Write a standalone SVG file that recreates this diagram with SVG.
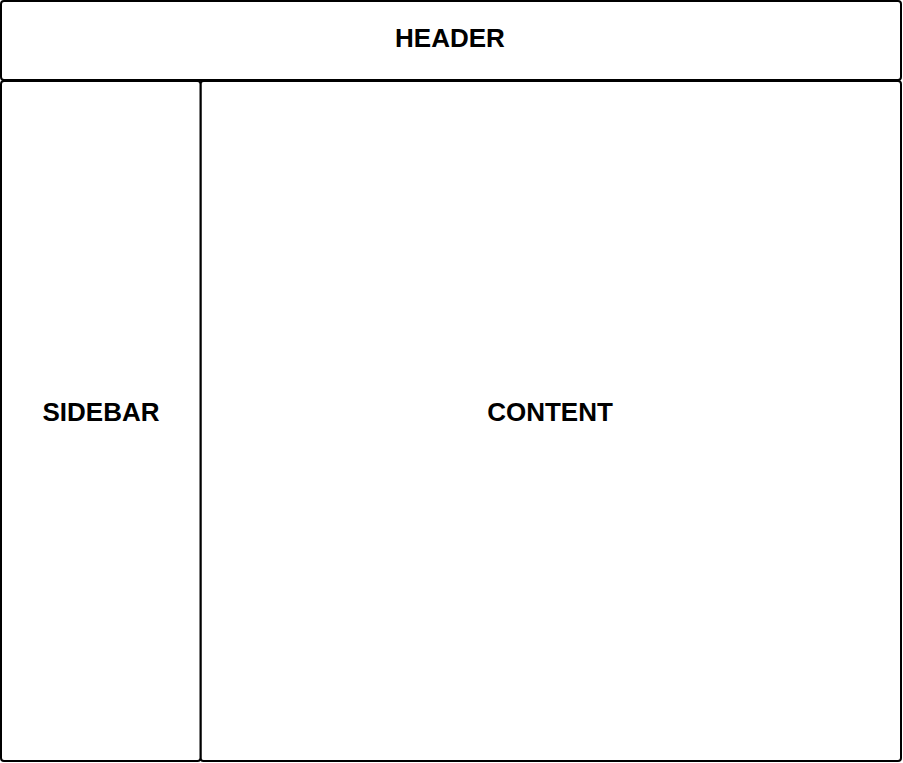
<svg xmlns="http://www.w3.org/2000/svg" width="903" height="763" viewBox="0 0 903 763">
<style>
.box{fill:#fff;stroke:#000;stroke-width:2}
.lbl{font-family:"Liberation Sans",Arial,sans-serif;font-weight:bold;font-size:26px;fill:#000;text-anchor:middle}
</style>
<rect width="903" height="763" fill="#fff"/>
<g id="header">
<rect class="box" x="1" y="1" width="900" height="79" rx="3"/>
<text class="lbl" x="450" y="47">HEADER</text>
</g>
<g id="content">
<rect class="box" x="200.5" y="81" width="700.5" height="680" rx="3"/>
<text class="lbl" x="550" y="421">CONTENT</text>
</g>
<g id="sidebar">
<rect class="box" x="1" y="81" width="199.5" height="680" rx="3"/>
<text class="lbl" x="101" y="421">SIDEBAR</text>
</g>
<g id="connectors"></g>
</svg>
